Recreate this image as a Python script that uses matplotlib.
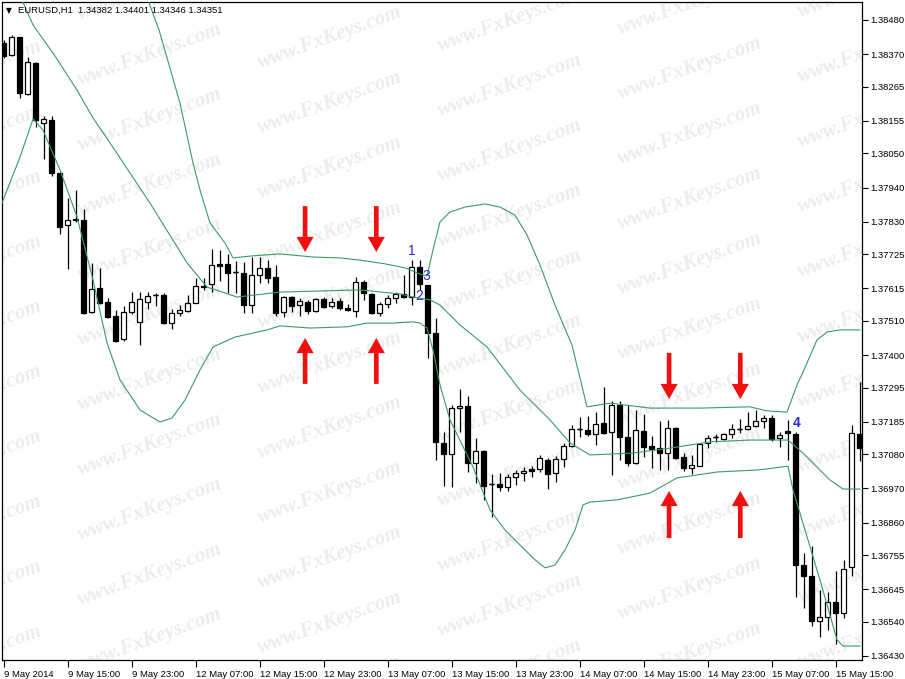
import matplotlib
matplotlib.use('Agg')
import matplotlib.pyplot as plt
import numpy as np

# ---------------- data ----------------
symbol_title = "EURUSD,H1  1.34382 1.34401 1.34346 1.34351"

time_labels = ['9 May 2014', '9 May 15:00', '9 May 23:00', '12 May 07:00', '12 May 15:00',
               '12 May 23:00', '13 May 07:00', '13 May 15:00', '13 May 23:00', '14 May 07:00',
               '14 May 15:00', '14 May 23:00', '15 May 07:00', '15 May 15:00']
time_label_bars = [0, 8, 16, 24, 32, 40, 48, 56, 64, 72, 80, 88, 96, 104]

price_ticks = [1.38480, 1.38370, 1.38265, 1.38155, 1.38050, 1.37940, 1.37830, 1.37725,
               1.37615, 1.37510, 1.37400, 1.37295, 1.37185, 1.37080, 1.36970, 1.36860,
               1.36755, 1.36645, 1.36540, 1.36430]

opens = [1.38406, 1.38367, 1.38425, 1.38241, 1.38341, 1.38148, 1.38158, 1.37987, 1.37819, 1.37839,
         1.37835, 1.37539, 1.37616, 1.37571, 1.37526, 1.37452, 1.37539, 1.37507, 1.37571, 1.37594,
         1.37594, 1.37503, 1.37536, 1.37542, 1.37568, 1.37623, 1.37629, 1.37694, 1.37694, 1.37668,
         1.37665, 1.37561, 1.37658, 1.37681, 1.37652, 1.37539, 1.37587, 1.37561, 1.37571, 1.37542,
         1.37581, 1.37558, 1.37574, 1.37552, 1.37542, 1.37636, 1.37597, 1.37536, 1.37565, 1.37584,
         1.37597, 1.37587, 1.37684, 1.37626, 1.37471, 1.37117, 1.37081, 1.37229, 1.37236, 1.37052,
         1.37091, 1.36984, 1.36984, 1.36975, 1.37007, 1.37020, 1.37033, 1.37033, 1.37062, 1.37020,
         1.37065, 1.37107, 1.37162, 1.37158, 1.37146, 1.37181, 1.37152, 1.37239, 1.37136, 1.37052,
         1.37155, 1.37107, 1.37100, 1.37084, 1.37165, 1.37071, 1.37036, 1.37042, 1.37117, 1.37136,
         1.37129, 1.37146, 1.37162, 1.37162, 1.37171, 1.37187, 1.37197, 1.37133, 1.37155, 1.37146,
         1.36723, 1.36688, 1.36543, 1.36556, 1.36604, 1.36569, 1.36717, 1.37146]

highs = [1.38416, 1.38432, 1.38425, 1.38361, 1.38345, 1.38171, 1.38171, 1.37990, 1.37906, 1.37932,
         1.37871, 1.37697, 1.37681, 1.37584, 1.37545, 1.37558, 1.37603, 1.37603, 1.37603, 1.37600,
         1.37600, 1.37549, 1.37561, 1.37594, 1.37648, 1.37648, 1.37742, 1.37739, 1.37726, 1.37703,
         1.37700, 1.37716, 1.37716, 1.37706, 1.37690, 1.37590, 1.37590, 1.37584, 1.37578, 1.37584,
         1.37587, 1.37584, 1.37584, 1.37565, 1.37652, 1.37642, 1.37600, 1.37571, 1.37594, 1.37603,
         1.37658, 1.37706, 1.37706, 1.37626, 1.37520, 1.37152, 1.37239, 1.37291, 1.37268, 1.37133,
         1.37094, 1.37017, 1.37020, 1.37017, 1.37030, 1.37039, 1.37042, 1.37078, 1.37068, 1.37075,
         1.37117, 1.37175, 1.37200, 1.37204, 1.37216, 1.37297, 1.37252, 1.37252, 1.37239, 1.37223,
         1.37210, 1.37139, 1.37187, 1.37191, 1.37168, 1.37084, 1.37078, 1.37117, 1.37142, 1.37146,
         1.37149, 1.37178, 1.37194, 1.37216, 1.37223, 1.37207, 1.37207, 1.37152, 1.37191, 1.37152,
         1.36762, 1.36785, 1.36643, 1.36636, 1.36704, 1.36740, 1.37175, 1.37313]

lows = [1.38358, 1.38364, 1.38229, 1.38238, 1.38135, 1.38032, 1.37977, 1.37790, 1.37677, 1.37829,
        1.37532, 1.37536, 1.37565, 1.37520, 1.37442, 1.37445, 1.37532, 1.37432, 1.37549, 1.37558,
        1.37500, 1.37484, 1.37526, 1.37539, 1.37568, 1.37610, 1.37603, 1.37639, 1.37600, 1.37600,
        1.37536, 1.37536, 1.37632, 1.37632, 1.37526, 1.37523, 1.37539, 1.37526, 1.37532, 1.37539,
        1.37552, 1.37552, 1.37545, 1.37542, 1.37523, 1.37578, 1.37532, 1.37526, 1.37552, 1.37568,
        1.37584, 1.37561, 1.37610, 1.37391, 1.37062, 1.36978, 1.36975, 1.37152, 1.37023, 1.36988,
        1.36933, 1.36878, 1.36962, 1.36962, 1.36981, 1.36994, 1.37007, 1.37023, 1.36968, 1.36991,
        1.37039, 1.37104, 1.37136, 1.37139, 1.37110, 1.37146, 1.37013, 1.37062, 1.37042, 1.37049,
        1.37071, 1.37036, 1.37030, 1.37030, 1.37065, 1.37026, 1.37017, 1.37042, 1.37100, 1.37120,
        1.37126, 1.37133, 1.37149, 1.37158, 1.37168, 1.37165, 1.37123, 1.37104, 1.37062, 1.36620,
        1.36585, 1.36527, 1.36491, 1.36514, 1.36469, 1.36553, 1.36688, 1.37059]

closes = [1.38364, 1.38425, 1.38245, 1.38345, 1.38158, 1.38161, 1.37987, 1.37813, 1.37835, 1.37835,
          1.37536, 1.37613, 1.37568, 1.37523, 1.37445, 1.37539, 1.37571, 1.37581, 1.37590, 1.37594,
          1.37503, 1.37536, 1.37545, 1.37568, 1.37623, 1.37619, 1.37690, 1.37687, 1.37665, 1.37668,
          1.37561, 1.37658, 1.37681, 1.37648, 1.37536, 1.37587, 1.37558, 1.37574, 1.37542, 1.37581,
          1.37555, 1.37571, 1.37552, 1.37545, 1.37636, 1.37600, 1.37536, 1.37565, 1.37584, 1.37597,
          1.37587, 1.37684, 1.37629, 1.37471, 1.37120, 1.37081, 1.37229, 1.37236, 1.37052, 1.37091,
          1.36978, 1.36984, 1.36975, 1.37007, 1.37020, 1.37026, 1.37026, 1.37068, 1.37017, 1.37065,
          1.37107, 1.37162, 1.37162, 1.37146, 1.37178, 1.37149, 1.37239, 1.37136, 1.37052, 1.37158,
          1.37104, 1.37097, 1.37084, 1.37165, 1.37068, 1.37036, 1.37046, 1.37113, 1.37133, 1.37136,
          1.37146, 1.37162, 1.37162, 1.37171, 1.37187, 1.37197, 1.37129, 1.37142, 1.37149, 1.36723,
          1.36688, 1.36543, 1.36556, 1.36604, 1.36569, 1.36710, 1.37149, 1.37100]

# Bollinger bands (vertices, x in bar units)
upper_x = [15.81, 18.06, 19.44, 20.81, 22.06, 23.69, 24.56, 25.81, 27.69, 28.69, 30.81, 34.56,
           38.69, 42.06, 44.56, 47.69, 50.19, 52.06, 52.94, 53.69, 54.56, 55.81, 57.69, 60.19,
           62.06, 63.94, 65.44, 67.06, 68.94, 71.06, 72.06, 72.94, 75.81, 80.81, 87.06, 93.31,
           95.44, 97.94, 99.19, 99.94, 101.69, 102.94, 104.56, 107.06]
upper_y = [1.38738, 1.38544, 1.38448, 1.38325, 1.38212, 1.38019, 1.37932, 1.37826, 1.37761,
           1.37713, 1.37719, 1.37726, 1.37716, 1.37713, 1.37706, 1.37694, 1.37681, 1.37661,
           1.37655, 1.37739, 1.37829, 1.37861, 1.37877, 1.37887, 1.37877, 1.37851, 1.37787,
           1.37690, 1.37561, 1.37432, 1.37326, 1.37233, 1.37245, 1.37229, 1.37229, 1.37233,
           1.37220, 1.37216, 1.37304, 1.37345, 1.37449, 1.37474, 1.37481, 1.37481]

middle_x = [0.81, 2.31, 3.69, 6.44, 9.19, 11.19, 13.31, 18.31, 22.94, 25.44, 27.69, 29.19,
            34.56, 44.56, 49.56, 51.19, 53.31, 54.56, 57.06, 60.44, 64.56, 68.31, 70.81, 73.31,
            78.69, 83.31, 88.31, 93.31, 98.06, 99.94, 103.31, 104.94, 107.06]
middle_y = [1.38609, 1.38544, 1.38464, 1.38364, 1.38254, 1.38164, 1.38084, 1.37890, 1.37697,
            1.37619, 1.37600, 1.37587, 1.37603, 1.37610, 1.37597, 1.37587, 1.37578, 1.37561,
            1.37497, 1.37426, 1.37287, 1.37191, 1.37117, 1.37078, 1.37084, 1.37100, 1.37120,
            1.37126, 1.37126, 1.37084, 1.36997, 1.36968, 1.36968]

lower_x = [-0.19, 2.06, 3.69, 4.94, 7.06, 9.19, 11.19, 12.94, 14.56, 17.06, 19.56, 21.06,
           22.69, 24.56, 26.19, 28.94, 32.94, 34.56, 38.31, 42.94, 45.44, 48.56, 51.19, 52.06,
           52.94, 53.69, 54.56, 55.81, 58.69, 60.81, 62.69, 64.56, 66.44, 67.69, 68.94, 70.19,
           71.44, 72.44, 73.31, 76.69, 80.81, 84.19, 89.19, 94.56, 98.06, 98.69, 100.19, 102.06,
           104.19, 104.94, 107.06]
lower_y = [1.37890, 1.38038, 1.38161, 1.38125, 1.37997, 1.37845, 1.37642, 1.37439, 1.37320,
           1.37223, 1.37184, 1.37197, 1.37255, 1.37352, 1.37426, 1.37458, 1.37481, 1.37494,
           1.37487, 1.37491, 1.37503, 1.37503, 1.37507, 1.37503, 1.37487, 1.37416, 1.37304,
           1.37191, 1.37039, 1.36901, 1.36836, 1.36788, 1.36740, 1.36714, 1.36723, 1.36772,
           1.36836, 1.36917, 1.36926, 1.36933, 1.36955, 1.37004, 1.37023, 1.37030, 1.37042,
           1.36965, 1.36836, 1.36675, 1.36482, 1.36462, 1.36462]

# annotation arrows: (bar position, tail price, tip price)
arrow_x = [37.7, 46.6, 37.7, 46.6, 83.2, 92.1, 83.2, 92.1]
arrow_tail = [1.37880, 1.37880, 1.37307, 1.37307, 1.37407, 1.37407, 1.36810, 1.36810]
arrow_tip = [1.37732, 1.37732, 1.37455, 1.37455, 1.37258, 1.37258, 1.36962, 1.36962]

# point labels
mark_text = ['1', '2', '3', '4']
mark_x = [51.0, 51.9, 52.9, 99.2]
mark_y = [1.37735, 1.37590, 1.37655, 1.37181]

# ---------------- figure ----------------
W, H = 905, 679
fig = plt.figure(figsize=(W / 100, H / 100), dpi=100)
fig.patch.set_facecolor('white')
L_px, R_px, T_px, B_px = 2, 861.5, 2, 660
ax = fig.add_axes([L_px / W, 1 - B_px / H, (R_px - L_px) / W, (B_px - T_px) / H])
ax.set_facecolor('white')

ax.set_xlim(-0.1875, 107.25)
ax.set_ylim(1.36417, 1.38538)

AXFONT = 'Liberation Sans'

# watermark
for k, cx in enumerate([-30, 150, 330, 510, 690, 870]):
    base = 72 - 17 * k
    for j in range(-1, 12):
        cy = base + 65 * j
        t = ax.text(cx / W, 1 - cy / H, 'www.FxKeys.com', transform=fig.transFigure,
                    rotation=20, ha='center', va='center', fontsize=15,
                    family='Liberation Serif', weight='bold', style='italic',
                    color='#ececec', zorder=0.5, clip_on=True)
        t.set_clip_path(ax.patch)

# candles
xs = np.arange(len(opens))
o = np.array(opens); c = np.array(closes); h = np.array(highs); l = np.array(lows)
bull = c >= o
lo = np.minimum(o, c)
ht = np.abs(c - o)
ax.vlines(xs, l, h, color='black', lw=0.9, zorder=3)
ax.bar(xs, ht, bottom=lo, width=0.56, color=np.where(bull, 'white', 'black'),
       edgecolor='black', linewidth=0.9, zorder=4)
doji = ht == 0
ax.hlines(o[doji], xs[doji] - 0.32, xs[doji] + 0.32, color='black', lw=1.0, zorder=4)

# bands
band_col = '#3a9a6a'
ax.plot(upper_x, upper_y, color=band_col, lw=0.8, zorder=5)
ax.plot(middle_x, middle_y, color=band_col, lw=0.8, zorder=5)
ax.plot(lower_x, lower_y, color=band_col, lw=0.8, zorder=5)

# arrows
for xa, ta, tp in zip(arrow_x, arrow_tail, arrow_tip):
    ax.annotate('', xy=(xa, tp), xytext=(xa, ta),
                arrowprops=dict(arrowstyle='simple,head_length=0.78,head_width=0.88,tail_width=0.24',
                                mutation_scale=14, color='#f01010', lw=0,
                                shrinkA=0, shrinkB=0), zorder=6)

# point labels
for tx, mx, my in zip(mark_text, mark_x, mark_y):
    ax.text(mx, my, tx, ha='center', va='center', fontsize=10, family=AXFONT,
            color='#2a2ad6', weight='bold' if tx == '4' else 'normal', zorder=7)

# axes styling
for s in ax.spines.values():
    s.set_color('black'); s.set_linewidth(0.9)
ax.yaxis.tick_right()
ax.set_yticks(price_ticks)
ax.set_yticklabels(['%.5f' % p for p in price_ticks], family=AXFONT, fontsize=6.8)
ax.tick_params(axis='y', direction='out', length=4, width=0.8, pad=2, colors='black')
ax.set_xticks(time_label_bars)
ax.set_xticklabels(time_labels, family=AXFONT, fontsize=6.8, ha='left')
ax.tick_params(axis='x', direction='out', length=5, width=0.8, pad=2, colors='black')

# title
fig.text(6 / W, 1 - 10.5 / H, '\u25BC', fontsize=5.5, family='DejaVu Sans', va='center', ha='left')
fig.text(18 / W, 1 - 10 / H, symbol_title, fontsize=6.8, family=AXFONT, va='center', ha='left')

fig.savefig('out.png', dpi=100, facecolor='white')
